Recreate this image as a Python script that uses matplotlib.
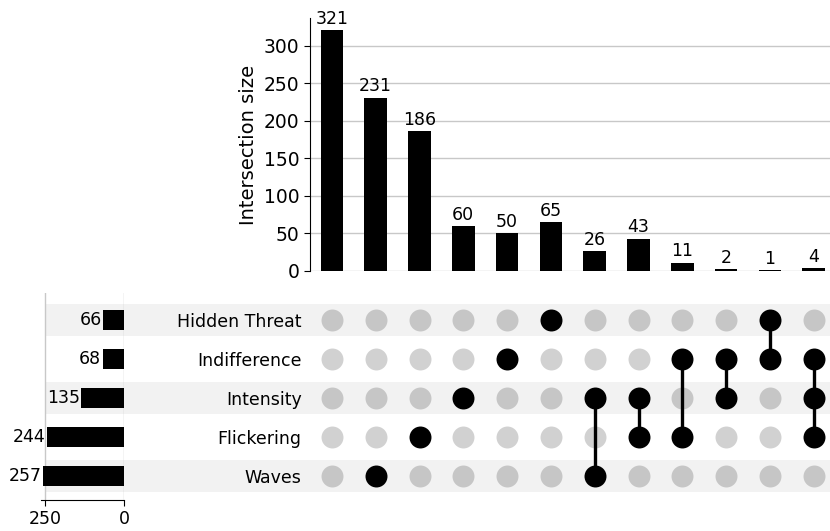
import matplotlib
matplotlib.use("Agg")
import matplotlib.pyplot as plt
import matplotlib.transforms as mtransforms
from matplotlib.patches import Rectangle

# sets listed bottom -> top in the matrix
set_names = ["Waves", "Flickering", "Intensity", "Indifference", "Hidden Threat"]
set_totals = [257, 244, 135, 68, 66]

intersection_sizes = [321, 231, 186, 60, 50, 65, 26, 43, 11, 2, 1, 4]
memberships = [
    [],
    ["Waves"],
    ["Flickering"],
    ["Intensity"],
    ["Indifference"],
    ["Hidden Threat"],
    ["Waves", "Intensity"],
    ["Flickering", "Intensity"],
    ["Flickering", "Indifference"],
    ["Intensity", "Indifference"],
    ["Indifference", "Hidden Threat"],
    ["Flickering", "Intensity", "Indifference"],
]

FS = 12.5
DOT = 250
n_cols = len(intersection_sizes)
n_rows = len(set_names)

fig = plt.figure(figsize=(8.3, 5.31), dpi=100)

W, H = 830.0, 531.0
def px_axes(x0, y0, x1, y1):
    return fig.add_axes([x0 / W, 1 - y1 / H, (x1 - x0) / W, (y1 - y0) / H])

ax_bars = px_axes(310, 18, 835.6, 271)
ax_mat = px_axes(310, 293, 835.6, 500)
ax_tot = px_axes(40.5, 293, 124, 500)

xs = list(range(n_cols))
ylim_rows = (-0.615, 4.69)

# --- intersection size bars ---
ax_bars.bar(xs, intersection_sizes, width=0.52, color="black", zorder=3)
for x, v in zip(xs, intersection_sizes):
    ax_bars.text(x, v + 3, str(v), ha="center", va="bottom", fontsize=FS)
ax_bars.set_xlim(-0.5, n_cols - 0.5)
ax_bars.set_ylim(0, 337)
ax_bars.set_yticks(range(0, 301, 50))
ax_bars.tick_params(axis="y", labelsize=13.5, length=4)
ax_bars.set_xticks([])
ax_bars.yaxis.grid(True, color="#c8c8c8", linewidth=1, zorder=0)
for s in ("top", "right", "bottom"):
    ax_bars.spines[s].set_visible(False)
ax_bars.set_ylabel("Intersection size", fontsize=14)

# --- matrix ---
ax_mat.set_xlim(-0.5, n_cols - 0.5)
ax_mat.set_ylim(*ylim_rows)
band_tr = mtransforms.blended_transform_factory(fig.transFigure, ax_mat.transData)
for i in range(n_rows):
    if i % 2 == 0:
        ax_mat.add_patch(Rectangle((45 / W, i - 0.4), 1 - 45 / W, 0.8,
                                   transform=band_tr, facecolor="#f2f2f2",
                                   edgecolor="none", zorder=0, clip_on=False))

for x, members in zip(xs, memberships):
    rows_in = [set_names.index(m) for m in members]
    rows_out = [r for r in range(n_rows) if r not in rows_in]
    ax_mat.scatter([x] * len(rows_out), rows_out, s=DOT, color="black",
                   alpha=0.18, linewidths=0, zorder=2)
    if rows_in:
        if len(rows_in) > 1:
            ax_mat.plot([x, x], [min(rows_in), max(rows_in)], color="black",
                        linewidth=2.4, zorder=3)
        ax_mat.scatter([x] * len(rows_in), rows_in, s=DOT, color="black",
                       linewidths=0, zorder=4)

ax_mat.set_xticks([])
ax_mat.set_yticks(range(n_rows))
ax_mat.set_yticklabels(set_names, fontsize=FS)
ax_mat.tick_params(axis="y", length=0, pad=6)
for s in ax_mat.spines.values():
    s.set_visible(False)
ax_mat.patch.set_alpha(0)

# --- set totals ---
ax_tot.barh(range(n_rows), set_totals, height=0.5, color="black", zorder=3)
for i, v in enumerate(set_totals):
    ax_tot.text(v + 4, i, str(v), ha="right", va="center", fontsize=FS, zorder=4)
ax_tot.set_xlim(265, 0)
ax_tot.set_ylim(*ylim_rows)
ax_tot.set_xticks([250, 0])
ax_tot.tick_params(axis="x", labelsize=FS, length=4)
ax_tot.set_yticks([])
ax_tot.xaxis.grid(True, color="#c8c8c8", linewidth=1, zorder=1)
for s in ("top", "left", "right"):
    ax_tot.spines[s].set_visible(False)
ax_tot.patch.set_alpha(0)

fig.savefig("out.png", dpi=100)
